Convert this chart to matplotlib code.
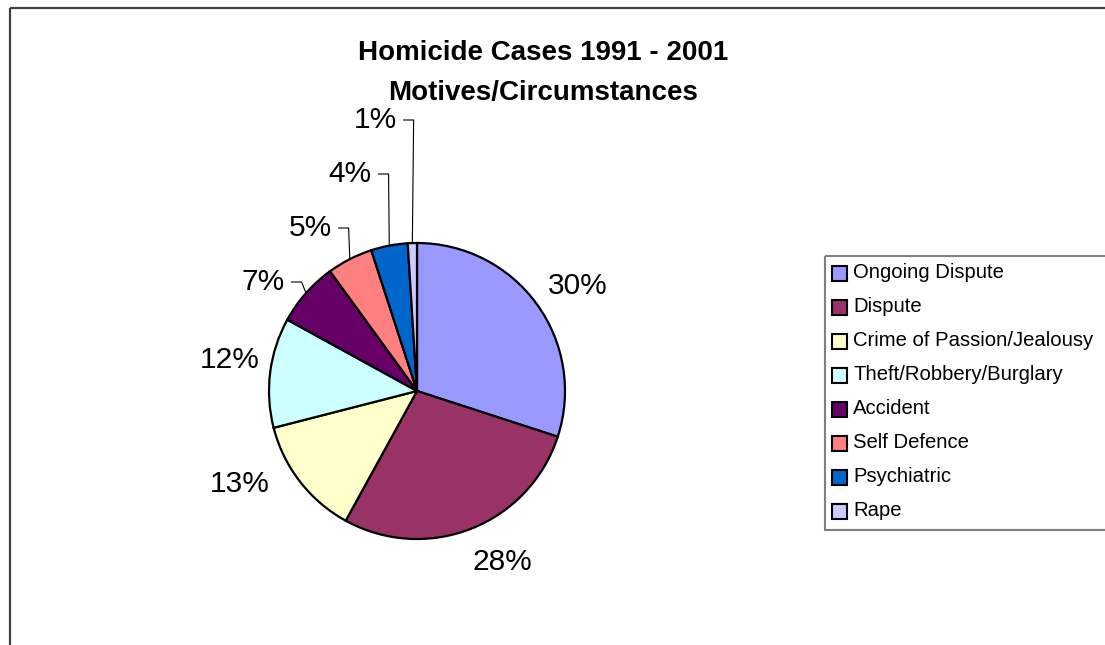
import numpy as np
import matplotlib
matplotlib.use("Agg")
from matplotlib import pyplot as plt
from matplotlib.patches import Rectangle

# --------------------------------------- data -----------------------------------------

motives = ["Ongoing Dispute", "Dispute", "Crime of Passion/Jealousy",
           "Theft/Robbery/Burglary", "Accident", "Self Defence",
           "Psychiatric", "Rape"]
shares = [30, 28, 13, 12, 7, 5, 4, 1]
colors = ["#9999FF", "#993366", "#FFFFCC", "#CCFFFF",
          "#660066", "#FF8080", "#0066CC", "#CCCCFF"]
title_lines = ["Homicide Cases 1991 - 2001", "Motives/Circumstances"]

# layout (pixels, y down)
center = (417, 391)
radius = 148
label_xy = [(578, 286), (502, 562), (240, 484), (230, 360),
            (263, 282), (310, 228), (350, 174), (375, 120)]
leader = [False, False, False, False, True, True, True, True]

plt.rcParams["font.family"] = ["Liberation Sans", "DejaVu Sans"]

fig = plt.figure(figsize=(11.05, 6.45), dpi=100)
ax = fig.add_axes([0, 0, 1, 1])

# chart frame, runs off the right and bottom edges
ax.add_patch(Rectangle((10, 8), 1200, 700, fill=False, ec="#404040", lw=1.6, clip_on=False))

# y axis is flipped, so counterclock here reads clockwise on screen
wedges, _ = ax.pie(shares, colors=colors, startangle=-90, counterclock=True,
                   center=center, radius=radius, frame=True,
                   wedgeprops=dict(edgecolor="black", linewidth=1.6))
ax.set_xlim(0, 1105)
ax.set_ylim(645, 0)
ax.axis("off")

texts = []
for val, (x, y) in zip(shares, label_xy):
    texts.append(ax.text(x, y, f"{val}%", fontsize=21.5, ha="center", va="center"))

# leader lines for the small slices
fig.canvas.draw()
inv = ax.transData.inverted()
for w, t, use in zip(wedges, texts, leader):
    if not use:
        continue
    bb = t.get_window_extent()
    right = inv.transform((bb.x1, bb.y0))[0]
    cy = t.get_position()[1]
    mid = np.deg2rad((w.theta1 + w.theta2) / 2)
    ex = center[0] + radius * np.cos(mid)
    ey = center[1] + radius * np.sin(mid)
    ax.plot([right + 7, right + 17, ex], [cy, cy, ey], color="black", lw=0.8)

# title
ax.text(543, 60, title_lines[0], fontsize=20, fontweight="bold", ha="center", va="baseline")
ax.text(543, 100, title_lines[1], fontsize=20, fontweight="bold", ha="center", va="baseline")

# legend
ax.add_patch(Rectangle((825, 256), 400, 274, fill=False, ec="#808080", lw=1.5, clip_on=False))
for i, (lab, col) in enumerate(zip(motives, colors)):
    y = 273 + i * 34
    ax.add_patch(Rectangle((832, y - 7.5), 15, 15, fc=col, ec="black", lw=1.5))
    ax.text(853, y, lab, fontsize=14.6, ha="left", va="center")

fig.savefig("out.png", dpi=100)
